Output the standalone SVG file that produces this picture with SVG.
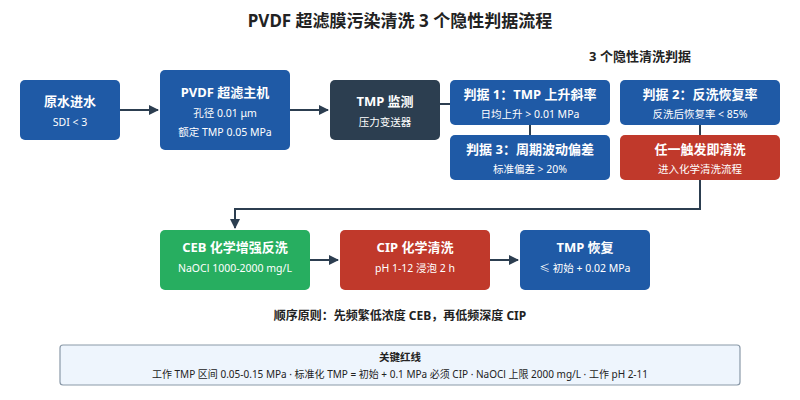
<svg xmlns="http://www.w3.org/2000/svg" width="800" height="400" viewBox="0 0 800 400">
<style>
text{font-family:"Noto Sans","Noto Sans CJK SC",sans-serif;text-anchor:middle}
.t{font-size:13px;font-weight:bold;fill:#fff}
.s{font-size:10.5px;fill:#fff}
.ln{stroke:#2c3e50;stroke-width:2;fill:none}
</style>
<defs><marker id="a" markerWidth="10" markerHeight="10" refX="9" refY="5" orient="auto" markerUnits="userSpaceOnUse"><path d="M0,0L10,5L0,10z" fill="#2c3e50"/></marker></defs>
<rect width="800" height="400" fill="#fff"/>
<text x="400" y="27" style="font-size:17px;font-weight:bold;fill:#222">PVDF 超滤膜污染清洗 3 个隐性判据流程</text>
<text x="640" y="61" style="font-size:13px;font-weight:bold;fill:#222">3 个隐性清洗判据</text>
<g id="connectors">
<line class="ln" x1="120" y1="110" x2="158" y2="110" marker-end="url(#a)"/>
<line class="ln" x1="290" y1="110" x2="328" y2="110" marker-end="url(#a)"/>
<line class="ln" x1="440" y1="104" x2="450" y2="104"/>
<line class="ln" x1="620" y1="104" x2="640" y2="104"/>
<line class="ln" x1="530" y1="125" x2="530" y2="135"/>
<line class="ln" x1="700" y1="125" x2="700" y2="135"/>
<path class="ln" d="M700,180V209H235V228" marker-end="url(#a)"/>
<line class="ln" x1="310" y1="260" x2="338" y2="260" marker-end="url(#a)"/>
<line class="ln" x1="490" y1="260" x2="518" y2="260" marker-end="url(#a)"/>
</g>
<g id="n1"><rect x="20" y="80" width="100" height="60" rx="5" fill="#1f5aa6"/><text class="t" x="70" y="106">原水进水</text><text class="s" x="70" y="126">SDI &lt; 3</text></g>
<g id="n2"><rect x="160" y="70" width="130" height="80" rx="5" fill="#1f5aa6"/><text class="t" x="225" y="97">PVDF 超滤主机</text><text class="s" x="225" y="117">孔径 0.01 μm</text><text class="s" x="225" y="136">额定 TMP 0.05 MPa</text></g>
<g id="n3"><rect x="330" y="80" width="110" height="60" rx="5" fill="#2c3e50"/><text class="t" x="385" y="106">TMP 监测</text><text class="s" x="385" y="126">压力变送器</text></g>
<g id="n4"><rect x="450" y="80" width="160" height="45" rx="5" fill="#1f5aa6"/><text class="t" x="530" y="99">判据 1：TMP 上升斜率</text><text class="s" x="530" y="118">日均上升 &gt; 0.01 MPa</text></g>
<g id="n5"><rect x="620" y="80" width="160" height="45" rx="5" fill="#1f5aa6"/><text class="t" x="700" y="99">判据 2：反洗恢复率</text><text class="s" x="700" y="118">反洗后恢复率 &lt; 85%</text></g>
<g id="n6"><rect x="450" y="135" width="160" height="45" rx="5" fill="#1f5aa6"/><text class="t" x="530" y="154">判据 3：周期波动偏差</text><text class="s" x="530" y="173">标准偏差 &gt; 20%</text></g>
<g id="n7"><rect x="620" y="135" width="160" height="45" rx="5" fill="#c0392b"/><text class="t" x="700" y="154">任一触发即清洗</text><text class="s" x="700" y="173">进入化学清洗流程</text></g>
<g id="n8"><rect x="160" y="230" width="150" height="60" rx="5" fill="#27ae60"/><text class="t" x="235" y="252">CEB 化学增强反洗</text><text class="s" x="235" y="272">NaOCl 1000-2000 mg/L</text></g>
<g id="n9"><rect x="340" y="230" width="150" height="60" rx="5" fill="#c0392b"/><text class="t" x="415" y="252">CIP 化学清洗</text><text class="s" x="415" y="272">pH 1-12 浸泡 2 h</text></g>
<g id="n10"><rect x="520" y="230" width="130" height="60" rx="5" fill="#1f5aa6"/><text class="t" x="585" y="252">TMP 恢复</text><text class="s" x="585" y="272">≤ 初始 + 0.02 MPa</text></g>
<text x="400" y="320" style="font-size:12px;font-weight:bold;fill:#222">顺序原则：先频繁低浓度 CEB，再低频深度 CIP</text>
<g id="note"><rect x="60" y="345" width="680" height="40" rx="3" fill="#eef5fd" stroke="#8a99a8" stroke-width="1.2"/>
<text x="400" y="361" style="font-size:10.5px;font-weight:bold;fill:#222">关键红线</text>
<text x="400" y="378" style="font-size:10px;fill:#222">工作 TMP 区间 0.05-0.15 MPa · 标准化 TMP = 初始 + 0.1 MPa 必须 CIP · NaOCl 上限 2000 mg/L · 工作 pH 2-11</text></g>
</svg>
